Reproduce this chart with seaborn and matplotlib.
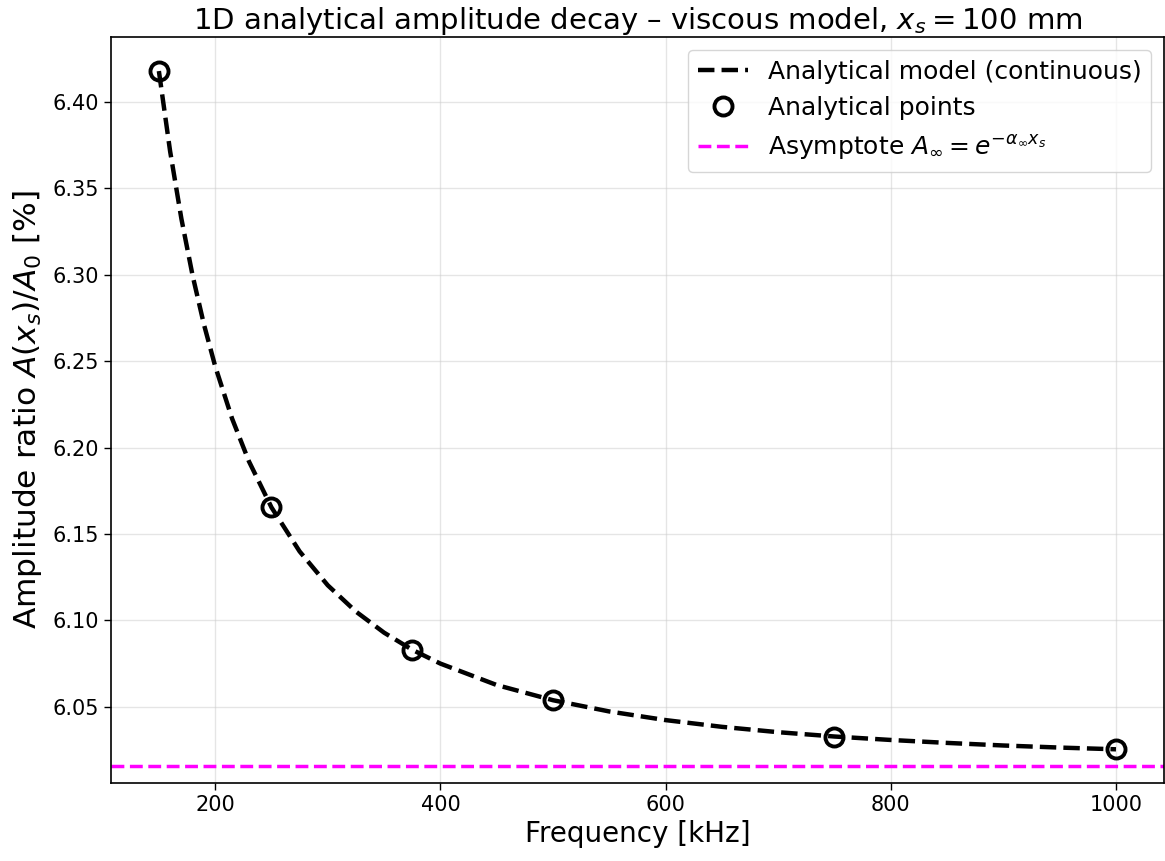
import matplotlib
matplotlib.use("Agg")
import matplotlib.pyplot as plt
import seaborn as sns
import pandas as pd

# Continuous analytical curve
curve_freq_khz = [150, 160, 170, 180, 190, 200, 215, 230, 250, 275, 300, 325, 350, 375,
                  400, 450, 500, 550, 600, 650, 700, 750, 800, 850, 900, 950, 1000]
curve_ratio_pct = [6.4179, 6.3714, 6.3324, 6.2994, 6.2713, 6.2471, 6.2168, 6.1920, 6.1654,
                   6.1399, 6.1203, 6.1051, 6.0929, 6.0830, 6.0750, 6.0626, 6.0538, 6.0473,
                   6.0423, 6.0384, 6.0353, 6.0328, 6.0308, 6.0291, 6.0276, 6.0264, 6.0254]

# Analytical points
point_freq_khz = [150, 250, 375, 500, 750, 1000]
point_ratio_pct = [6.418, 6.1655, 6.0829, 6.0539, 6.0328, 6.0256]

# Asymptote
asymptote_pct = 6.0159

ytick_vals = [6.05, 6.10, 6.15, 6.20, 6.25, 6.30, 6.35, 6.40]
ytick_labels = ["6.05", "6.10", "6.15", "6.20", "6.25", "6.30", "6.35", "6.40"]
xtick_vals = [200, 400, 600, 800, 1000]

sns.set_theme(style="ticks")
plt.rcParams["font.family"] = ["DejaVu Sans"]
plt.rcParams["mathtext.fontset"] = "dejavusans"
for k in ["text.color", "axes.labelcolor", "xtick.color", "ytick.color", "axes.edgecolor"]:
    plt.rcParams[k] = "black"

fig, ax = plt.subplots(figsize=(11.65, 8.61), dpi=100)
fig.subplots_adjust(left=0.0953, right=0.999, top=0.957, bottom=0.0906)

curve_df = pd.DataFrame({"f": curve_freq_khz, "A": curve_ratio_pct})
pts_df = pd.DataFrame({"f": point_freq_khz, "A": point_ratio_pct})

sns.lineplot(data=curve_df, x="f", y="A", ax=ax, color="black", linewidth=3.2,
             linestyle="--", label="Analytical model (continuous)", zorder=2)
ax.plot(pts_df["f"], pts_df["A"], linestyle="none", marker="o", markersize=13,
        markerfacecolor="none", markeredgecolor="black", markeredgewidth=2.8,
        label="Analytical points", zorder=3)
ax.axhline(asymptote_pct, color="magenta", linewidth=2.5, linestyle="--",
           label=r"Asymptote $A_{\infty} = e^{-\alpha_{\infty} x_s}$", zorder=2)

ax.set_xlim(107.5, 1042.5)
ax.set_ylim(6.0059, 6.4376)
ax.set_yticks(ytick_vals)
ax.set_yticklabels(ytick_labels)
ax.set_xticks(xtick_vals)
ax.tick_params(labelsize=15, width=1, length=5)
ax.grid(True, color="#cccccc", alpha=0.5, linewidth=1)

for s in ax.spines.values():
    s.set_color("black")
    s.set_linewidth(1.2)

ax.set_xlabel("Frequency [kHz]", fontsize=20)
ax.set_ylabel(r"Amplitude ratio $A(x_s)/A_0$ [%]", fontsize=22.5, labelpad=6)
ax.set_title(r"1D analytical amplitude decay – viscous model, $x_s = 100$ mm", fontsize=21)

ax.legend(loc="upper right", fontsize=18, frameon=True, framealpha=0.8, edgecolor="#cccccc")

fig.savefig("out.png", dpi=100)
